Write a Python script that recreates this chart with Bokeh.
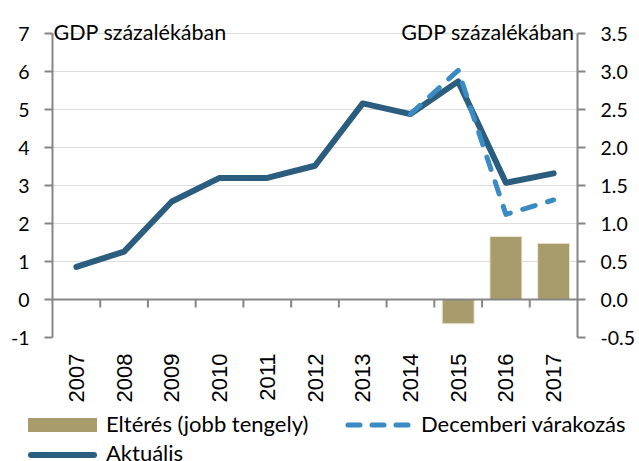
import math
from bokeh.plotting import figure
from bokeh.layouts import column
from bokeh.models import (Range1d, FactorRange, LinearAxis, FixedTicker, Span,
                          Label, NumeralTickFormatter, Div)
from bokeh.embed import file_html
from bokeh.resources import INLINE

years = ["2007", "2008", "2009", "2010", "2011", "2012", "2013", "2014", "2015", "2016", "2017"]
aktualis = [0.86, 1.26, 2.58, 3.20, 3.20, 3.52, 5.16, 4.88, 5.74, 3.07, 3.32]
dec_years = ["2014", "2015", "2016", "2017"]
decemberi = [4.88, 6.03, 2.24, 2.62]
elt_years = ["2015", "2016", "2017"]
elteres = [-0.32, 0.83, 0.74]
left_ticks = [-1, 0, 1, 2, 3, 4, 5, 6, 7]
right_ticks = [-0.5, 0.0, 0.5, 1.0, 1.5, 2.0, 2.5, 3.0, 3.5]
title_text = "GDP százalékában"
legend_labels = ["Eltérés (jobb tengely)", "Decemberi várakozás", "Aktuális"]

C_BAR = "#A99C6C"
C_BAR_EDGE = "#EFE9D6"
C_AKT = "#2B5D7E"
C_DEC = "#3A8BC4"
C_AX = "#868686"
FONT = "Lato"

PX_PER_UNIT = 38.0      # left-axis pixels per unit
TOP_PAD = 33            # space above the 7 gridline for the titles

p = figure(width=639, height=410, x_range=FactorRange(*years),
           y_range=Range1d(-1, 7 + TOP_PAD / PX_PER_UNIT),
           output_backend="svg", toolbar_location=None,
           min_border_left=52, min_border_right=62, min_border_top=0, min_border_bottom=73)
p.extra_y_ranges = {"right": Range1d(-0.5, 3.5 + TOP_PAD / (2 * PX_PER_UNIT))}
p.outline_line_color = None


def style_axis(ax):
    ax.major_tick_out = 8
    ax.major_tick_in = 0
    ax.minor_tick_line_color = None
    ax.axis_line_color = C_AX
    ax.axis_line_width = 2
    ax.major_tick_line_color = C_AX
    ax.major_tick_line_width = 2
    ax.major_label_standoff = 15
    ax.major_label_text_font = FONT
    ax.major_label_text_font_size = "19.5px"
    ax.major_label_text_color = "black"


# left axis
ya = p.yaxis[0]
ya.ticker = FixedTicker(ticks=left_ticks)
ya.formatter = NumeralTickFormatter(format="0")
ya.bounds = (-1, 7)
style_axis(ya)

# right axis
ra = LinearAxis(y_range_name="right", ticker=FixedTicker(ticks=right_ticks),
                formatter=NumeralTickFormatter(format="0.0"), bounds=(-0.5, 3.5))
style_axis(ra)
p.add_layout(ra, "right")

# bottom axis (category labels)
xa = p.xaxis[0]
xa.axis_line_color = None
xa.major_tick_line_color = None
xa.major_tick_out = 0
xa.major_tick_in = 0
xa.major_label_orientation = math.pi / 2
xa.major_label_standoff = 16
xa.major_label_text_font = "Liberation Sans"
xa.major_label_text_font_size = "22px"
xa.major_label_text_color = "black"

# grid
p.xgrid.grid_line_color = None
p.ygrid.ticker = FixedTicker(ticks=left_ticks)
p.ygrid.grid_line_color = "#B8B8B8"
p.ygrid.grid_line_dash = "1 1"
p.ygrid.grid_line_width = 1

# bars (right axis)
p.vbar(x=elt_years, top=elteres, bottom=0, width=0.67, fill_color=C_BAR,
       line_color=C_BAR_EDGE, line_width=1, y_range_name="right")

# zero line and category boundary ticks
p.add_layout(Span(location=0, dimension="width", line_color=C_AX, line_width=2))
bounds = list(range(1, len(years)))
p.segment(x0=bounds, y0=[0] * len(bounds), x1=bounds, y1=[-8 / PX_PER_UNIT] * len(bounds),
          line_color=C_AX, line_width=2)

# lines
p.line(years, aktualis, line_width=6, line_color=C_AKT, line_cap="round", line_join="round")
p.line(dec_years, decemberi, line_width=5, line_color=C_DEC, line_dash="13 13",
       line_cap="round", line_join="round")

# titles over both axes
p.add_layout(Label(x=0, y=7, text=title_text, text_align="left", text_baseline="alphabetic",
                   x_offset=1, y_offset=1.5, text_font=FONT, text_font_size="21.5px",
                   text_color="black"))
p.add_layout(Label(x=len(years), y=7, text=title_text, text_align="right",
                   text_baseline="alphabetic", x_offset=-3, y_offset=1.5, text_font=FONT,
                   text_font_size="21.5px", text_color="black"))

# legend strip below the chart (inline SVG, not frame-aligned)
TXT = f"font-family:'{FONT}';font-size:22px;fill:#000"
legend_svg = f"""
<div style="position:relative;width:639px;height:51px;overflow:hidden;margin:0;padding:0">
<svg xmlns="http://www.w3.org/2000/svg" width="639" height="51"
     style="position:absolute;left:0;top:0;display:block">
  <rect x="28" y="8" width="69" height="14" fill="{C_BAR}"/>
  <line x1="348" y1="15" x2="408" y2="15" stroke="{C_DEC}" stroke-width="5"
        stroke-dasharray="12 12" stroke-linecap="round"/>
  <line x1="31" y1="45" x2="94" y2="45" stroke="{C_AKT}" stroke-width="6"
        stroke-linecap="round"/>
  <text x="106" y="21.5" style="{TXT}">{legend_labels[0]}</text>
  <text x="421" y="21.5" style="{TXT}">{legend_labels[1]}</text>
  <text x="106" y="50.7" style="{TXT}">{legend_labels[2]}</text>
</svg>
</div>
"""
legend_div = Div(text=legend_svg, width=639, height=51, margin=0)

open("out.html", "w").write(file_html(column(p, legend_div, spacing=0), INLINE))
